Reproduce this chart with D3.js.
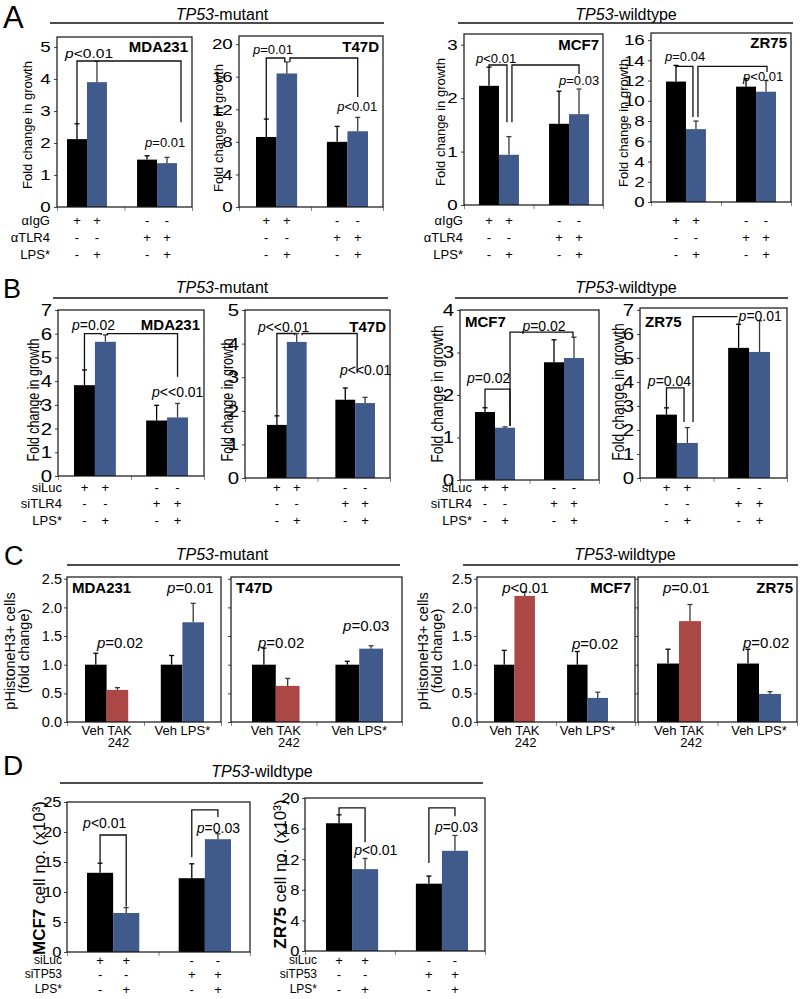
<!DOCTYPE html>
<html><head><meta charset="utf-8">
<script src="https://cdn.jsdelivr.net/npm/d3@7"></script>
<style>
body{margin:0;background:#fff}
svg{display:block}
text{font-family:"Liberation Sans",Arial,Helvetica,sans-serif}
</style>
</head><body>
<svg id="c" width="802" height="999"></svg>
<script>
// ---------------- DATA ----------------
// bar order in every chart: [control, treated, control, treated]
// Panel A: fold change in growth (αIgG / αTLR4 ± LPS*)
const A_MDA231 = [2.12, 3.90, 1.48, 1.37];
const A_MDA231_se = [0.48, 0.65, 0.12, 0.18];
const A_T47D = [8.6, 16.4, 8.0, 9.3];
const A_T47D_se = [2.2, 1.4, 1.9, 1.7];
const A_MCF7 = [2.23, 0.94, 1.52, 1.70];
const A_MCF7_se = [0.35, 0.34, 0.61, 0.47];
const A_ZR75 = [11.9, 7.2, 11.4, 10.9];
const A_ZR75_se = [1.6, 0.8, 0.8, 1.1];
// Panel B: fold change in growth (siLuc / siTLR4 ± LPS*)
const B_MDA231 = [3.83, 5.66, 2.34, 2.47];
const B_MDA231_se = [0.64, 0.29, 0.64, 0.59];
const B_T47D = [1.58, 4.05, 2.33, 2.23];
const B_T47D_se = [0.27, 0.25, 0.35, 0.17];
const B_MCF7 = [1.60, 1.23, 2.77, 2.87];
const B_MCF7_se = [0.10, 0.02, 0.53, 0.49];
const B_ZR75 = [2.64, 1.46, 5.42, 5.25];
const B_ZR75_se = [0.28, 0.64, 0.98, 1.30];
// Panel C: pHistoneH3+ cells (fold change)
const C_MDA231 = [1.0, 0.56, 1.0, 1.74];
const C_MDA231_se = [0.20, 0.04, 0.16, 0.33];
const C_T47D = [1.0, 0.63, 1.0, 1.28];
const C_T47D_se = [0.29, 0.13, 0.06, 0.05];
const C_MCF7 = [1.0, 2.20, 1.0, 0.42];
const C_MCF7_se = [0.25, 0.07, 0.23, 0.10];
const C_ZR75 = [1.02, 1.76, 1.02, 0.49];
const C_ZR75_se = [0.25, 0.29, 0.25, 0.04];
// Panel D: cell number (x10^3)
const D_MCF7 = [13.2, 6.5, 12.3, 18.8];
const D_MCF7_se = [1.6, 0.9, 2.4, 0.9];
const D_ZR75 = [16.7, 10.7, 8.8, 13.1];
const D_ZR75_se = [1.1, 1.4, 1.0, 2.0];

// tick values
const ticks_A_MDA231 = [0, 1, 2, 3, 4, 5];
const ticks_A_T47D = [0, 4, 8, 12, 16, 20];
const ticks_A_MCF7 = [0, 1, 2, 3];
const ticks_A_ZR75 = [0, 2, 4, 6, 8, 10, 12, 14, 16];
const ticks_B_MDA231 = [0, 1, 2, 3, 4, 5, 6, 7];
const ticks_B_T47D = [0, 1, 2, 3, 4, 5];
const ticks_B_MCF7 = [0, 1, 2, 3, 4];
const ticks_B_ZR75 = [0, 1, 2, 3, 4, 5, 6, 7];
const ticks_C = [0, 0.5, 1.0, 1.5, 2.0, 2.5];
const ticks_D_MCF7 = [0, 5, 10, 15, 20, 25];
const ticks_D_ZR75 = [0, 4, 8, 12, 16, 20];

// treatment tables
const rowsA = ["αIgG", "αTLR4", "LPS*"];
const rowsB = ["siLuc", "siTLR4", "LPS*"];
const rowsD = ["siLuc", "siTP53", "LPS*"];
const signs = [["+", "+", "-", "-"], ["-", "-", "+", "+"], ["-", "+", "-", "+"]];
const groupLabelsC = ["Veh TAK", "Veh LPS*"];
const cellLines = ["MDA231", "T47D", "MCF7", "ZR75"];

// ---------------- DRAWING ----------------
const BLACK = "#000", BLUE = "#415a8c", RED = "#ab4744";
const colBlue = [BLACK, BLUE, BLACK, BLUE];
const colRed = [BLACK, RED, BLACK, BLUE];
const svg = d3.select("#c");

function addText(parent, o) {
  const t = parent.append("text")
    .attr("transform", `translate(${o.x},${o.y})` + (o.rot ? ` rotate(${o.rot})` : "") + ` scale(${o.sx || 1},${o.sy || 1})`)
    .attr("text-anchor", o.anchor || "start")
    .attr("font-size", o.fs || 13)
    .attr("font-weight", o.weight || "normal")
    .attr("dy", "0.35em")
    .attr("fill", "#000");
  const parts = typeof o.parts === "string" ? [[o.parts]] : o.parts;
  parts.forEach(([s, st]) => {
    const ts = t.append("tspan").text(s);
    if (st === "i") ts.attr("font-style", "italic");
    if (st === "b") ts.attr("font-weight", "bold");
  });
  return t;
}
const pParts = t => t[0] === "p" ? [["p", "i"], [t.slice(1)]] : [[t]];

function drawPanel(P) {
  const g = svg.append("g");
  const y = d3.scaleLinear().domain([0, P.yMax]).range([P.B, P.T]);
  const gx = d3.scaleBand().domain([0, 1]).range([P.bx0, P.bx1]).paddingInner(P.pi).paddingOuter(0);
  const bx = d3.scaleBand().domain([0, 1]).range([0, gx.bandwidth()]);
  const barLeft = i => gx(Math.floor(i / 2)) + bx(i % 2);
  const cx = s => { const i = Math.max(0, Math.min(3, Math.round(s))); return barLeft(i) + bx.bandwidth() * (0.5 + s - i); };

  // y axis ticks + labels
  const ya = g.append("g").attr("transform", `translate(${P.L},0)`)
    .call(d3.axisLeft(y).tickValues(P.ticks).tickSize(3).tickPadding(2)
      .tickFormat(P.noLabels ? "" : d3.format(P.fmt || "d")));
  ya.select(".domain").remove();
  ya.selectAll("line").attr("stroke", "#444");
  ya.selectAll("text").attr("font-size", P.tickFs).attr("fill", "#000")
    .attr("font-family", '"Liberation Sans",Arial,sans-serif')
    .attr("transform", `scale(${P.tickSx || 1},1)`);

  // x axis category ticks
  const xa = g.append("g").attr("transform", `translate(0,${P.B})`)
    .call(d3.axisBottom(d3.scaleLinear().domain([0, 2]).range([P.L, P.R])).tickValues([0, 1, 2]).tickSize(4).tickFormat(""));
  xa.select(".domain").remove();
  xa.selectAll("line").attr("stroke", "#888");

  // bars
  g.selectAll("rect.bar").data(P.vals).join("rect").attr("class", "bar")
    .attr("x", (d, i) => barLeft(i)).attr("y", d => y(d))
    .attr("width", bx.bandwidth()).attr("height", d => y(0) - y(d))
    .attr("fill", (d, i) => P.colors[i]);

  // error bars (upper only)
  P.vals.forEach((v, i) => {
    const c = cx(i), top = y(v + P.se[i]);
    const col = i % 2 ? "#3a3a3a" : "#000";
    g.append("line").attr("x1", c).attr("x2", c).attr("y1", y(v)).attr("y2", top).attr("stroke", col).attr("stroke-width", 1.3);
    g.append("line").attr("x1", c - 2.5).attr("x2", c + 2.5).attr("y1", top).attr("y2", top).attr("stroke", col).attr("stroke-width", 1.3);
  });

  // frame
  g.append("rect").attr("x", P.L).attr("y", P.T).attr("width", P.R - P.L).attr("height", P.B - P.T)
    .attr("fill", "none").attr("stroke", "#111").attr("stroke-width", 1.2);

  // significance brackets
  const ln = d3.line().x(d => cx(d[0])).y(d => y(d[1]));
  (P.brackets || []).forEach(b => g.append("path").attr("d", ln(b)).attr("fill", "none").attr("stroke", "#111").attr("stroke-width", 1.3));

  // p-values
  (P.pv || []).forEach(a => addText(g, { x: cx(a.s), y: y(a.v), parts: pParts(a.t), fs: a.fs || P.pFs, sx: a.sx || 1, anchor: a.anchor || "start" }));

  // cell-line name
  const left = P.nameSide === "left";
  addText(g, { x: left ? P.L + 5 : P.R - 4, y: P.T + P.nameDy, parts: P.name, fs: P.nameFs, weight: "bold", anchor: left ? "start" : "end", sx: P.nameSx || 1 });

  // y title
  if (P.ytitle) addText(g, { x: P.ytitle.x, y: P.ytitle.y, parts: P.ytitle.parts, fs: P.ytitle.fs, rot: -90, anchor: "middle", sy: P.ytitle.sy || 1 });

  // treatment sign table
  if (P.signY) signs.forEach((row, r) => row.forEach((s, i) =>
    addText(g, { x: cx(i), y: P.signY[r], parts: s, fs: 13, anchor: "middle" })));

  // category labels (panel C)
  if (P.catLabels) {
    addText(g, { x: cx(0.5), y: P.catY, parts: groupLabelsC[0], fs: 13, anchor: "middle" });
    addText(g, { x: cx(1.05), y: P.catY + 12, parts: "242", fs: 13, anchor: "middle" });
    addText(g, { x: cx(2.5), y: P.catY, parts: groupLabelsC[1], fs: 13, anchor: "middle" });
  }
}

function header(x, y, lx0, lx1, ly, rest) {
  addText(svg, { x: x, y: y, parts: [["TP53", "i"], [rest]], fs: 16, anchor: "middle" });
  svg.append("line").attr("x1", lx0).attr("x2", lx1).attr("y1", ly).attr("y2", ly).attr("stroke", "#111").attr("stroke-width", 1.3);
}
function rowLabels(x, ys, labels, fs) {
  labels.forEach((l, i) => addText(svg, { x: x, y: ys[i], parts: l, fs: fs, anchor: "end" }));
}
const FG = "Fold change in growth";

// panel letters
addText(svg, { x: 3, y: 17, parts: "A", fs: 31 });
addText(svg, { x: 3, y: 289, parts: "B", fs: 27 });
addText(svg, { x: 4, y: 556, parts: "C", fs: 27 });
addText(svg, { x: 3, y: 765, parts: "D", fs: 28 });

// ---- Panel A ----
header(222, 14, 50, 384, 23, "-mutant");
header(626, 14, 458, 793, 23, "-wildtype");
const signYA = [220, 237, 254];
rowLabels(50, signYA, rowsA, 13);
rowLabels(463, signYA, rowsA, 13);
const baseA = { tickFs: 15, tickSx: 1.25, pFs: 13, nameFs: 15, nameDy: 10, colors: colBlue, signY: signYA };
drawPanel(Object.assign({}, baseA, {
  L: 57, T: 37, R: 192, B: 207, yMax: 5.31, ticks: ticks_A_MDA231, vals: A_MDA231, se: A_MDA231_se,
  bx0: 67, bx1: 177, pi: 0.43, name: cellLines[0],
  brackets: [[[0, 2.6], [0, 4.56], [1, 4.56]], [[1, 4.56], [3.7, 4.56], [3.7, 2.65]]],
  pv: [{ t: "p<0.01", s: -0.6, v: 4.81, sx: 1.2 }, { t: "p=0.01", s: 1.9, v: 2.03 }],
  ytitle: { x: 27, y: 125, parts: FG, fs: 13 }
}));
drawPanel(Object.assign({}, baseA, {
  L: 239, T: 36, R: 383, B: 207, yMax: 21, ticks: ticks_A_T47D, vals: A_T47D, se: A_T47D_se,
  bx0: 256, bx1: 368, pi: 0.42, name: cellLines[1], nameDy: 11,
  brackets: [[[0, 10.8], [0, 18.3], [0.9, 18.3], [0.9, 17.8]], [[1.15, 17.8], [1.15, 18.3], [3, 18.3], [3, 13.5]]],
  pv: [{ t: "p=0.01", s: -0.65, v: 19.3 }, { t: "p<0.01", s: 2.0, v: 12.3 }],
  ytitle: { x: 218, y: 128, parts: FG, fs: 13 }
}));
drawPanel(Object.assign({}, baseA, {
  L: 464, T: 34, R: 603, B: 205, yMax: 3.2, ticks: ticks_A_MCF7, vals: A_MCF7, se: A_MCF7_se,
  bx0: 479, bx1: 589, pi: 0.43, name: cellLines[2], nameDy: 11,
  brackets: [[[0, 2.58], [0, 2.62], [0.9, 2.62], [0.9, 1.55]], [[1.15, 1.55], [1.15, 2.62], [3, 2.62], [3, 2.45]]],
  pv: [{ t: "p<0.01", s: -0.65, v: 2.74 }, { t: "p=0.03", s: 2.0, v: 2.34 }],
  ytitle: { x: 440, y: 122, parts: FG, fs: 13 }
}));
drawPanel(Object.assign({}, baseA, {
  L: 651, T: 33, R: 791, B: 202, yMax: 16.7, ticks: ticks_A_ZR75, vals: A_ZR75, se: A_ZR75_se,
  bx0: 666, bx1: 776, pi: 0.43, name: cellLines[3],
  brackets: [[[0, 13.5], [0, 13.4], [0.85, 13.4], [0.85, 8.4]], [[1.1, 8.4], [1.1, 13.4], [3.05, 13.4], [3.05, 12.85]]],
  pv: [{ t: "p=0.04", s: -0.55, v: 14.4 }, { t: "p<0.01", s: 1.85, v: 12.45 }],
  ytitle: { x: 623, y: 123, parts: FG, fs: 13 }
}));

// ---- Panel B ----
header(222, 287, 53, 388, 298, "-mutant");
header(626, 287, 455, 788, 298, "-wildtype");
const signYB = [487, 503, 520];
rowLabels(62, signYB, rowsB, 13);
rowLabels(472, signYB, rowsB, 13);
const baseB = { tickFs: 17, tickSx: 1.2, pFs: 14, nameFs: 15, colors: colBlue, signY: signYB };
drawPanel(Object.assign({}, baseB, {
  L: 58, T: 310, R: 204, B: 476, yMax: 7.0, ticks: ticks_B_MDA231, vals: B_MDA231, se: B_MDA231_se,
  bx0: 74, bx1: 188, pi: 0.42, name: cellLines[0], nameDy: 15,
  brackets: [[[0, 4.47], [0, 6.0], [0.8, 6.0], [0.8, 5.95]], [[1.1, 5.95], [1.1, 6.0], [3, 6.0], [3, 4.18]]],
  pv: [{ t: "p=0.02", s: -0.6, v: 6.37 }, { t: "p<<0.01", s: 1.78, v: 3.54 }],
  ytitle: { x: 33, y: 400, parts: FG, fs: 12.5, sy: 1.35 }
}));
drawPanel(Object.assign({}, baseB, {
  L: 245, T: 310, R: 390, B: 478, yMax: 5.0, ticks: ticks_B_T47D, vals: B_T47D, se: B_T47D_se,
  bx0: 267, bx1: 375, pi: 0.42, name: cellLines[1], nameDy: 17,
  brackets: [[[0, 1.85], [0, 4.3], [0.9, 4.3], [0.9, 4.25]], [[1.27, 4.25], [1.27, 4.3], [2.6, 4.3], [2.6, 3.12]]],
  pv: [{ t: "p<<0.01", s: -0.96, v: 4.49 }, { t: "p<<0.01", s: 1.73, v: 3.21 }],
  ytitle: { x: 227, y: 400, parts: FG, fs: 12.5, sy: 1.35 }
}));
drawPanel(Object.assign({}, baseB, {
  L: 460, T: 310, R: 599, B: 480, yMax: 4.0, ticks: ticks_B_MCF7, vals: B_MCF7, se: B_MCF7_se,
  bx0: 475, bx1: 584, pi: 0.42, name: cellLines[2], nameSide: "left", nameDy: 12,
  brackets: [[[0, 1.7], [0, 2.14], [1.25, 2.14], [1.25, 1.27]], [[1.25, 1.27], [1.25, 3.48], [2.95, 3.48], [2.95, 3.36]]],
  pv: [{ t: "p=0.02", s: -0.9, v: 2.4 }, { t: "p=0.02", s: 1.5, v: 3.62, anchor: "middle" }],
  ytitle: { x: 437, y: 394, parts: FG, fs: 14, sy: 1.2 }
}));
drawPanel(Object.assign({}, baseB, {
  L: 640, T: 308, R: 787, B: 478, yMax: 7.08, ticks: ticks_B_ZR75, vals: B_ZR75, se: B_ZR75_se,
  bx0: 656, bx1: 770, pi: 0.42, name: cellLines[3], nameSide: "left", nameDy: 14,
  brackets: [[[0, 2.92], [0, 3.75], [0.84, 3.75], [0.84, 2.33]], [[1.27, 2.33], [1.27, 6.72], [1.95, 6.72]]],
  pv: [{ t: "p=0.04", s: -0.89, v: 4.04 }, { t: "p=0.01", s: 2.0, v: 6.75 }],
  ytitle: { x: 618, y: 392, parts: FG, fs: 14, sy: 1.2 }
}));

// ---- Panel C ----
header(222, 554, 67, 400, 565, "-mutant");
header(625, 554, 463, 798, 565, "-wildtype");
const baseC = { yMax: 2.53, ticks: ticks_C, fmt: ".1f", tickFs: 14.5, pFs: 15, nameFs: 15, nameDy: 11, colors: colRed, catLabels: true, catY: 730, B: 722 };
drawPanel(Object.assign({}, baseC, {
  L: 67, T: 577, R: 221, vals: C_MDA231, se: C_MDA231_se, bx0: 85, bx1: 204, pi: 0.43,
  name: cellLines[0], nameSide: "left",
  pv: [{ t: "p=0.01", s: 1.79, v: 2.34 }, { t: "p=0.02", s: 0.05, v: 1.38 }]
}));
drawPanel(Object.assign({}, baseC, {
  L: 231, T: 577, R: 402, vals: C_T47D, se: C_T47D_se, bx0: 252, bx1: 383, pi: 0.43, noLabels: true,
  name: cellLines[1], nameSide: "left",
  pv: [{ t: "p=0.02", s: -0.25, v: 1.38 }, { t: "p=0.03", s: 1.82, v: 1.68 }]
}));
drawPanel(Object.assign({}, baseC, {
  L: 477, T: 577, R: 635, vals: C_MCF7, se: C_MCF7_se, bx0: 494, bx1: 608, pi: 0.44,
  name: cellLines[2],
  pv: [{ t: "p<0.01", s: -0.1, v: 2.34 }, { t: "p=0.02", s: 1.74, v: 1.36 }]
}));
drawPanel(Object.assign({}, baseC, {
  L: 638, T: 577, R: 797, vals: C_ZR75, se: C_ZR75_se, bx0: 657, bx1: 781, pi: 0.45, noLabels: true,
  name: cellLines[3],
  pv: [{ t: "p=0.01", s: -0.23, v: 2.34 }, { t: "p=0.02", s: 1.77, v: 1.38 }]
}));
[[10, 24], [423, 437]].forEach(([x1, x2]) => {
  addText(svg, { x: x1, y: 651, parts: "pHistoneH3+ cells", fs: 14.5, rot: -90, anchor: "middle" });
  addText(svg, { x: x2, y: 651, parts: "(fold change)", fs: 14.5, rot: -90, anchor: "middle" });
});

// ---- Panel D ----
header(262, 771, 60, 483, 783, "-wildtype");
const signYD = [960, 974, 989];
rowLabels(62, signYD, rowsD, 12);
rowLabels(317, signYD, rowsD, 12);
const baseD = { tickFs: 15, tickSx: 1.1, pFs: 14, nameFs: 0, colors: colBlue, signY: signYD };
drawPanel(Object.assign({}, baseD, {
  L: 67, T: 802, R: 250, B: 952, yMax: 25, ticks: ticks_D_MCF7, vals: D_MCF7, se: D_MCF7_se,
  bx0: 87, bx1: 231, pi: 0.43, name: "", nameDy: 0,
  brackets: [[[0, 14.8], [0, 19.5], [1, 19.5], [1, 7.6]], [[2, 15.8], [2, 23.7], [3, 23.7], [3, 22.5]]],
  pv: [{ t: "p<0.01", s: -0.65, v: 21.5 }, { t: "p=0.03", s: 2.19, v: 20.7 }],
  ytitle: { x: 39, y: 878, parts: [[cellLines[2], "b"], [" cell no. (x10³)"]], fs: 17 }
}));
drawPanel(Object.assign({}, baseD, {
  L: 305, T: 798, R: 485, B: 951, yMax: 20, ticks: ticks_D_ZR75, vals: D_ZR75, se: D_ZR75_se,
  bx0: 326, bx1: 468, pi: 0.42, name: "", nameDy: 0,
  brackets: [[[0, 17.8], [0, 18.7], [1, 18.7], [1, 14.2]], [[2, 11.5], [2, 18.7], [3, 18.7], [3, 17.6]]],
  pv: [{ t: "p<0.01", s: 0.58, v: 13.2 }, { t: "p=0.03", s: 2.23, v: 16.2 }],
  ytitle: { x: 280, y: 874, parts: [[cellLines[3], "b"], [" cell no. (x10³)"]], fs: 17 }
}));
</script>
</body></html>
